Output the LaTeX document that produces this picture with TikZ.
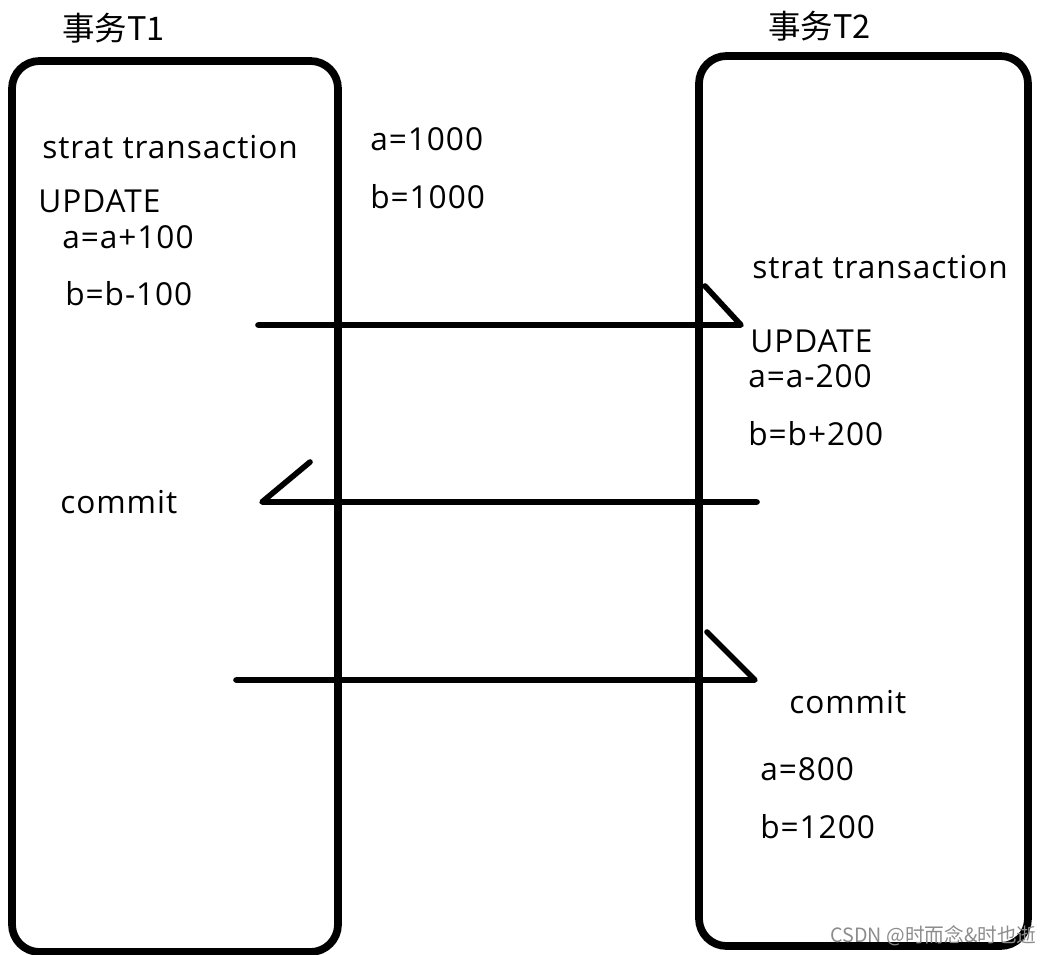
\documentclass[tikz,border=0pt]{standalone}
\usepackage{fontspec}
\setmainfont{Open Sans}[LetterSpace=3]
\newfontfamily\cjk{Noto Sans CJK SC}
\usetikzlibrary{positioning}

\begin{document}
\begin{tikzpicture}[x=0.02cm,y=-0.02cm,
  box/.style={line width=4.4pt,rounded corners=0.55cm},
  msg/.style={line width=3.2pt,line cap=round,line join=round},
  lbl/.style={anchor=base west,inner sep=0pt,font=\fontsize{18}{21}\selectfont},
  ttl/.style={anchor=base west,inner sep=0pt,font=\cjk\fontsize{18.5}{21}\selectfont}]
\useasboundingbox (0,0) rectangle (1052,954);
% the two transactions
\draw[box] (12,61) rectangle (338,952);
\draw[box] (699,56) rectangle (1028,946);
\node[ttl] (t1) at (62,40) {事务T1};
\node[ttl] (t2) at (768,38) {事务T2};
% T1
\node[lbl] (s1) at (42,158) {strat transaction};
\node[lbl] (u1) at (38,212) {UPDATE};
\node[lbl] (a1) at (62,248) {a=a+100};
\node[lbl] (b1) at (65,305) {b=b-100};
\node[lbl] (c1) at (60,513) {commit};
% initial values
\node[lbl] (a0) at (370,150) {a=1000};
\node[lbl] (b0) at (370,208) {b=1000};
% T2
\node[lbl] (s2) at (752,278) {strat transaction};
\node[lbl] (u2) at (750,352) {UPDATE};
\node[lbl] (a2) at (748,387) {a=a-200};
\node[lbl] (b2) at (748,445) {b=b+200};
\node[lbl] (c2) at (789,713) {commit};
\node[lbl] (a3) at (760,780) {a=800};
\node[lbl] (b3) at (760,838) {b=1200};
% messages
\coordinate (m1s) at (258,325); \coordinate (m1e) at (741,325); \coordinate (m1h) at (705,286);
\coordinate (m2s) at (757,502); \coordinate (m2e) at (262,502); \coordinate (m2h) at (310,462);
\coordinate (m3s) at (236,680); \coordinate (m3e) at (755,680); \coordinate (m3h) at (707,632);
\draw[msg] (m1s) -- (m1e) -- (m1h);
\draw[msg] (m2s) -- (m2e) -- (m2h);
\draw[msg] (m3s) -- (m3e) -- (m3h);
\node[anchor=base east,inner sep=0pt,text=black!45,font=\cjk\fontsize{11.2}{13}\selectfont] (wm) at (1037,942) {CSDN @时而念\&时也逝};
\end{tikzpicture}
\end{document}
